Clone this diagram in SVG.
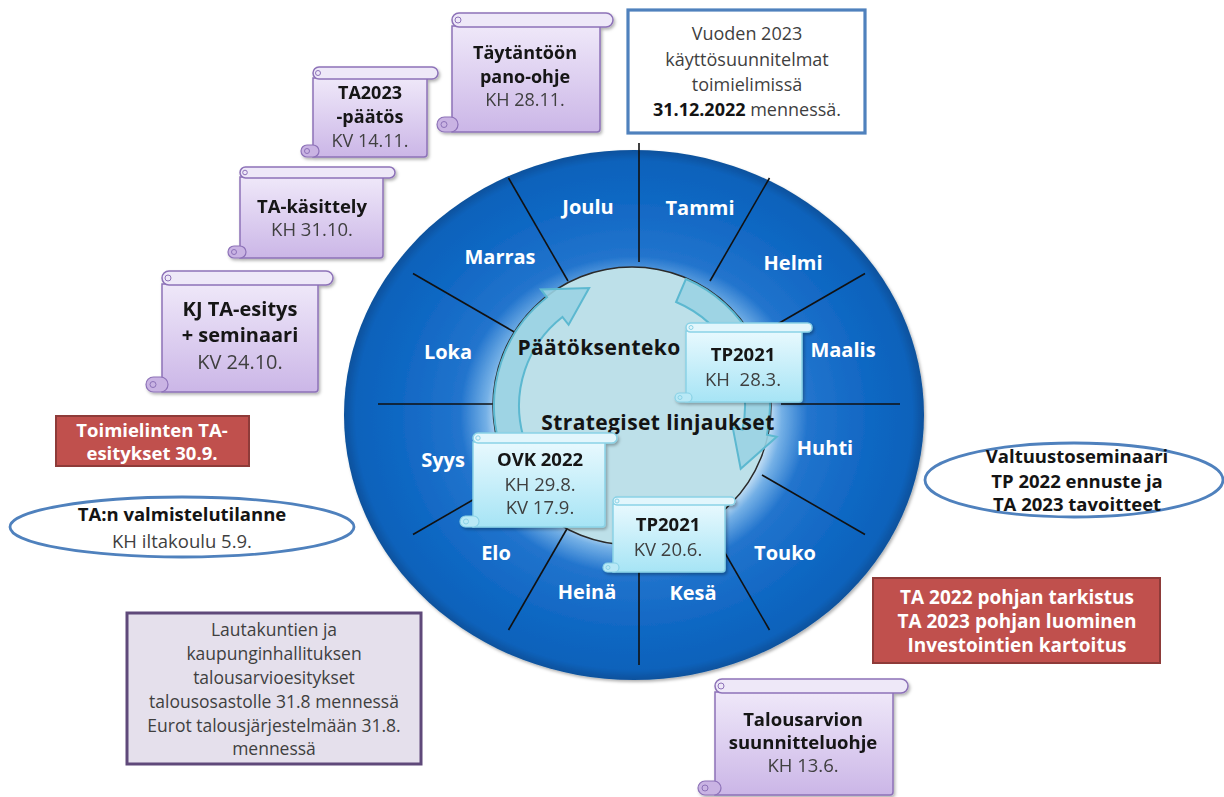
<svg xmlns="http://www.w3.org/2000/svg" width="1224" height="797" viewBox="0 0 1224 797">
<defs>
<radialGradient id="gRing" cx="0.5" cy="0.5" r="0.5">
<stop offset="0.46" stop-color="#cfe6f7"/>
<stop offset="0.51" stop-color="#74b0e6"/>
<stop offset="0.6" stop-color="#2274cd"/>
<stop offset="0.8" stop-color="#1168c4"/>
<stop offset="0.96" stop-color="#0d62bb"/>
<stop offset="1" stop-color="#0a519c"/>
</radialGradient>
<linearGradient id="gP" x1="0" y1="0" x2="0" y2="1">
<stop offset="0" stop-color="#efe8f9"/>
<stop offset="1" stop-color="#cbb6e7"/>
</linearGradient>
<linearGradient id="gC" x1="0" y1="0" x2="0" y2="1">
<stop offset="0" stop-color="#e8f9fe"/>
<stop offset="1" stop-color="#a6e4f5"/>
</linearGradient>
<filter id="sh" x="-10%" y="-10%" width="125%" height="125%">
<feDropShadow dx="1.5" dy="2" stdDeviation="1.5" flood-color="#000" flood-opacity="0.3"/>
</filter>
<style>
.t{font-family:'Open Sans','Liberation Sans',sans-serif;text-anchor:middle}
.b{font-weight:bold;fill:#141414}
.r{fill:#3f3f3f}
.w{font-weight:bold;fill:#ffffff}
.m{font-weight:bold;fill:#ffffff;font-size:20px}
.sp{fill:url(#gP);stroke:#8d72b8;stroke-width:1.5}
.spb{fill:#eee8f8;stroke:#8d72b8;stroke-width:1.5}
.spc{fill:#c9b3e3;stroke:#8d72b8;stroke-width:1.2}
.sc{fill:url(#gC);stroke:#8ad2e6;stroke-width:1.5}
.scb{fill:#e2f6fc;stroke:#8ad2e6;stroke-width:1.5}
.scc{fill:#b9e9f6;stroke:#8ad2e6;stroke-width:1.2}
.spoke{stroke:#111;stroke-width:1.6}
.red{fill:#c0504d;stroke:#8e3b39;stroke-width:2}
.blue{fill:none;stroke:#4f81bd;stroke-width:2.8}
.arr{fill:#9ad3e3;stroke:#5cb8d0;stroke-width:2;fill-opacity:0.9}
</style>
</defs>
<rect width="1224" height="797" fill="#ffffff"/>

<g id="wheel">
<ellipse cx="634" cy="415" rx="290" ry="265" fill="url(#gRing)" filter="url(#sh)"/>
</g>

<g id="connectors">
<line class="spoke" x1="781" y1="404" x2="900" y2="404"/>
<line class="spoke" x1="762" y1="475" x2="865" y2="534.5"/>
<line class="spoke" x1="710" y1="527" x2="769.5" y2="630"/>
<line class="spoke" x1="639" y1="546" x2="639" y2="665"/>
<line class="spoke" x1="568" y1="527" x2="508.5" y2="630"/>
<line class="spoke" x1="516" y1="475" x2="413" y2="534.5"/>
<line class="spoke" x1="497" y1="404" x2="378" y2="404"/>
<line class="spoke" x1="516" y1="333" x2="413" y2="273.5"/>
<line class="spoke" x1="568" y1="281" x2="508.5" y2="178"/>
<line class="spoke" x1="639" y1="262" x2="639" y2="143"/>
<line class="spoke" x1="710" y1="281" x2="769.5" y2="178"/>
<line class="spoke" x1="762" y1="333" x2="865" y2="273.5"/>
</g>

<g id="hub">
<circle cx="632" cy="406" r="139" fill="#bde0e9" stroke="#2a2a2a" stroke-width="1.5"/>
<path class="arr" d="M498.7,441.7 A138,138 0 0 1 547,297.3 L540.9,289.4 L589.1,288.1 L568.6,324.8 L562.4,317 A113,113 0 0 0 522.9,435.2 Z"/>
<path class="arr" d="M685.9,279 A138,138 0 0 1 767,434.7 L776.8,436.8 L740.7,468.8 L732.7,427.4 L742.5,429.5 A113,113 0 0 0 676.1,302 Z"/>
<text class="t b" x="599" y="355" font-size="21" letter-spacing="0.4">Päätöksenteko</text>
<text class="t b" x="658" y="430" font-size="21" letter-spacing="0.4">Strategiset linjaukset</text>
</g>

<g id="months">
<text class="t m" x="588" y="214">Joulu</text>
<text class="t m" x="700" y="215">Tammi</text>
<text class="t m" x="793" y="270">Helmi</text>
<text class="t m" x="843" y="357">Maalis</text>
<text class="t m" x="825" y="455">Huhti</text>
<text class="t m" x="785" y="560">Touko</text>
<text class="t m" x="693" y="600">Kesä</text>
<text class="t m" x="587" y="599">Heinä</text>
<text class="t m" x="496" y="560">Elo</text>
<text class="t m" x="443" y="467">Syys</text>
<text class="t m" x="448" y="359">Loka</text>
<text class="t m" x="500" y="264">Marras</text>
</g>

<g id="scroll-tp2021-kh" filter="url(#sh)">
<path class="sc" d="M686,331 L802,331 L802,399 Q802,402 799,402 L686,402 Z"/>
<rect class="scc" x="675" y="393" width="17" height="9" rx="4.5"/>
<circle cx="680" cy="397.5" r="2" fill="none" stroke="#8ad2e6"/>
<rect class="scb" x="686" y="323" width="126" height="9" rx="4.5"/>
<circle cx="691" cy="327.5" r="2" fill="none" stroke="#8ad2e6"/>
<text class="t b" x="743" y="361" font-size="18.5">TP2021</text>
<text class="t r" x="743" y="386" font-size="18.5" style="white-space:pre">KH  28.3.</text>
</g>

<g id="scroll-ovk" filter="url(#sh)">
<path class="sc" d="M473,442 L605,442 L605,524 Q605,527 602,527 L473,527 Z"/>
<rect class="scc" x="460" y="516" width="19" height="11" rx="5.5"/>
<circle cx="466" cy="521.5" r="2.5" fill="none" stroke="#8ad2e6"/>
<rect class="scb" x="473" y="433" width="144" height="10" rx="5"/>
<circle cx="478" cy="438" r="2.2" fill="none" stroke="#8ad2e6"/>
<text class="t b" x="540" y="466" font-size="18.5">OVK 2022</text>
<text class="t r" x="540" y="491" font-size="18.5">KH 29.8.</text>
<text class="t r" x="540" y="514" font-size="18.5">KV 17.9.</text>
</g>

<g id="scroll-tp2021-kv" filter="url(#sh)">
<path class="sc" d="M613,504 L725,504 L725,569 Q725,572 722,572 L613,572 Z"/>
<rect class="scc" x="603" y="563" width="16" height="9" rx="4.5"/>
<circle cx="608" cy="567.5" r="2" fill="none" stroke="#8ad2e6"/>
<rect class="scb" x="613" y="497" width="122" height="8" rx="4"/>
<circle cx="617" cy="501" r="2" fill="none" stroke="#8ad2e6"/>
<text class="t b" x="668" y="531" font-size="18.5">TP2021</text>
<text class="t r" x="668" y="556" font-size="18.5">KV 20.6.</text>
</g>

<g id="scroll-taytantoon" filter="url(#sh)">
<path class="sp" d="M452,26 L600,26 L600,129 Q600,132 597,132 L452,132 Z"/>
<rect class="spc" x="437" y="117" width="21" height="15" rx="7.5"/>
<circle cx="444" cy="124.5" r="3" fill="none" stroke="#8d72b8"/>
<rect class="spb" x="452" y="13" width="161" height="14" rx="7"/>
<circle cx="458" cy="20" r="3" fill="none" stroke="#8d72b8"/>
<text class="t b" x="525" y="59" font-size="18">Täytäntöön</text>
<text class="t b" x="525" y="83" font-size="18">pano-ohje</text>
<text class="t r" x="525" y="106" font-size="18">KH 28.11.</text>
</g>

<g id="scroll-ta2023" filter="url(#sh)">
<path class="sp" d="M313,78 L427,78 L427,154 Q427,157 424,157 L313,157 Z"/>
<rect class="spc" x="301" y="145" width="18" height="12" rx="6"/>
<circle cx="307" cy="151" r="2.5" fill="none" stroke="#8d72b8"/>
<rect class="spb" x="313" y="67" width="125" height="12" rx="6"/>
<circle cx="318" cy="73" r="2.5" fill="none" stroke="#8d72b8"/>
<text class="t b" x="370" y="99" font-size="18">TA2023</text>
<text class="t b" x="370" y="123" font-size="18">-päätös</text>
<text class="t r" x="370" y="147" font-size="18">KV 14.11.</text>
</g>

<g id="scroll-takasittely" filter="url(#sh)">
<path class="sp" d="M240,177 L383,177 L383,255 Q383,258 380,258 L240,258 Z"/>
<rect class="spc" x="228" y="246" width="18" height="12" rx="6"/>
<circle cx="234" cy="252" r="2.5" fill="none" stroke="#8d72b8"/>
<rect class="spb" x="240" y="167" width="155" height="11" rx="5.5"/>
<circle cx="245" cy="172.5" r="2.3" fill="none" stroke="#8d72b8"/>
<text class="t b" x="312" y="213" font-size="18.5">TA-käsittely</text>
<text class="t r" x="312" y="236" font-size="18.5">KH 31.10.</text>
</g>

<g id="scroll-kj" filter="url(#sh)">
<path class="sp" d="M162,284 L318,284 L318,389 Q318,392 315,392 L162,392 Z"/>
<rect class="spc" x="146" y="377" width="22" height="15" rx="7.5"/>
<circle cx="153" cy="384.5" r="3" fill="none" stroke="#8d72b8"/>
<rect class="spb" x="162" y="271" width="171" height="14" rx="7"/>
<circle cx="168" cy="278" r="3" fill="none" stroke="#8d72b8"/>
<text class="t b" x="240" y="316" font-size="20">KJ TA-esitys</text>
<text class="t b" x="240" y="342" font-size="20">+ seminaari</text>
<text class="t r" x="240" y="369" font-size="20">KV 24.10.</text>
</g>

<g id="scroll-talousarvion" filter="url(#sh)">
<path class="sp" d="M715,692 L893,692 L893,792 Q893,795 890,795 L715,795 Z"/>
<rect class="spc" x="698" y="781" width="23" height="14" rx="7"/>
<circle cx="705" cy="788" r="3" fill="none" stroke="#8d72b8"/>
<rect class="spb" x="715" y="679" width="193" height="14" rx="7"/>
<circle cx="721" cy="686" r="3" fill="none" stroke="#8d72b8"/>
<text class="t b" x="803" y="726" font-size="18.5">Talousarvion</text>
<text class="t b" x="803" y="749" font-size="18.5">suunnitteluohje</text>
<text class="t r" x="803" y="772" font-size="18.5">KH 13.6.</text>
</g>

<g id="box-kayttosuunnitelmat">
<rect x="628" y="10" width="237" height="123" fill="#ffffff" stroke="#4f81bd" stroke-width="3.2"/>
<text class="t r" x="747" y="40" font-size="18">Vuoden 2023</text>
<text class="t r" x="747" y="66" font-size="18">käyttösuunnitelmat</text>
<text class="t r" x="747" y="91" font-size="18">toimielimissä</text>
<text class="t r" x="747" y="116" font-size="18"><tspan font-weight="bold" fill="#141414">31.12.2022</tspan> mennessä.</text>
</g>

<g id="ellipse-valtuusto">
<ellipse class="blue" cx="1074" cy="480" rx="149" ry="37"/>
<text class="t b" x="1077" y="463" font-size="18.5">Valtuustoseminaari</text>
<text class="t b" x="1077" y="488" font-size="18.5">TP 2022 ennuste ja</text>
<text class="t b" x="1077" y="511" font-size="18.5">TA 2023 tavoitteet</text>
</g>

<g id="box-pohjan">
<rect class="red" x="873" y="578" width="287" height="85"/>
<text class="t w" x="1017" y="604" font-size="19">TA 2022 pohjan tarkistus</text>
<text class="t w" x="1017" y="628" font-size="19">TA 2023 pohjan luominen</text>
<text class="t w" x="1017" y="652" font-size="19">Investointien kartoitus</text>
</g>

<g id="box-toimielinten">
<rect class="red" x="56" y="416" width="193" height="50"/>
<text class="t w" x="152" y="437" font-size="18.5">Toimielinten TA-</text>
<text class="t w" x="152" y="460" font-size="18.5">esitykset 30.9.</text>
</g>

<g id="ellipse-valmistelu">
<ellipse class="blue" cx="182" cy="527" rx="172" ry="30"/>
<text class="t b" x="182" y="521" font-size="18.5">TA:n valmistelutilanne</text>
<text class="t r" x="182" y="548" font-size="18.5">KH iltakoulu 5.9.</text>
</g>

<g id="box-lautakuntien">
<rect x="127" y="613" width="294" height="151" fill="#e5e0ec" stroke="#5f497a" stroke-width="3"/>
<text class="t r" x="274" y="636" font-size="17.5">Lautakuntien ja</text>
<text class="t r" x="274" y="660" font-size="17.5">kaupunginhallituksen</text>
<text class="t r" x="274" y="684" font-size="17.5">talousarvioesitykset</text>
<text class="t r" x="274" y="708" font-size="17.5">talousosastolle 31.8 mennessä</text>
<text class="t r" x="274" y="732" font-size="17.5">Eurot talousjärjestelmään 31.8.</text>
<text class="t r" x="274" y="755" font-size="17.5">mennessä</text>
</g>
</svg>
